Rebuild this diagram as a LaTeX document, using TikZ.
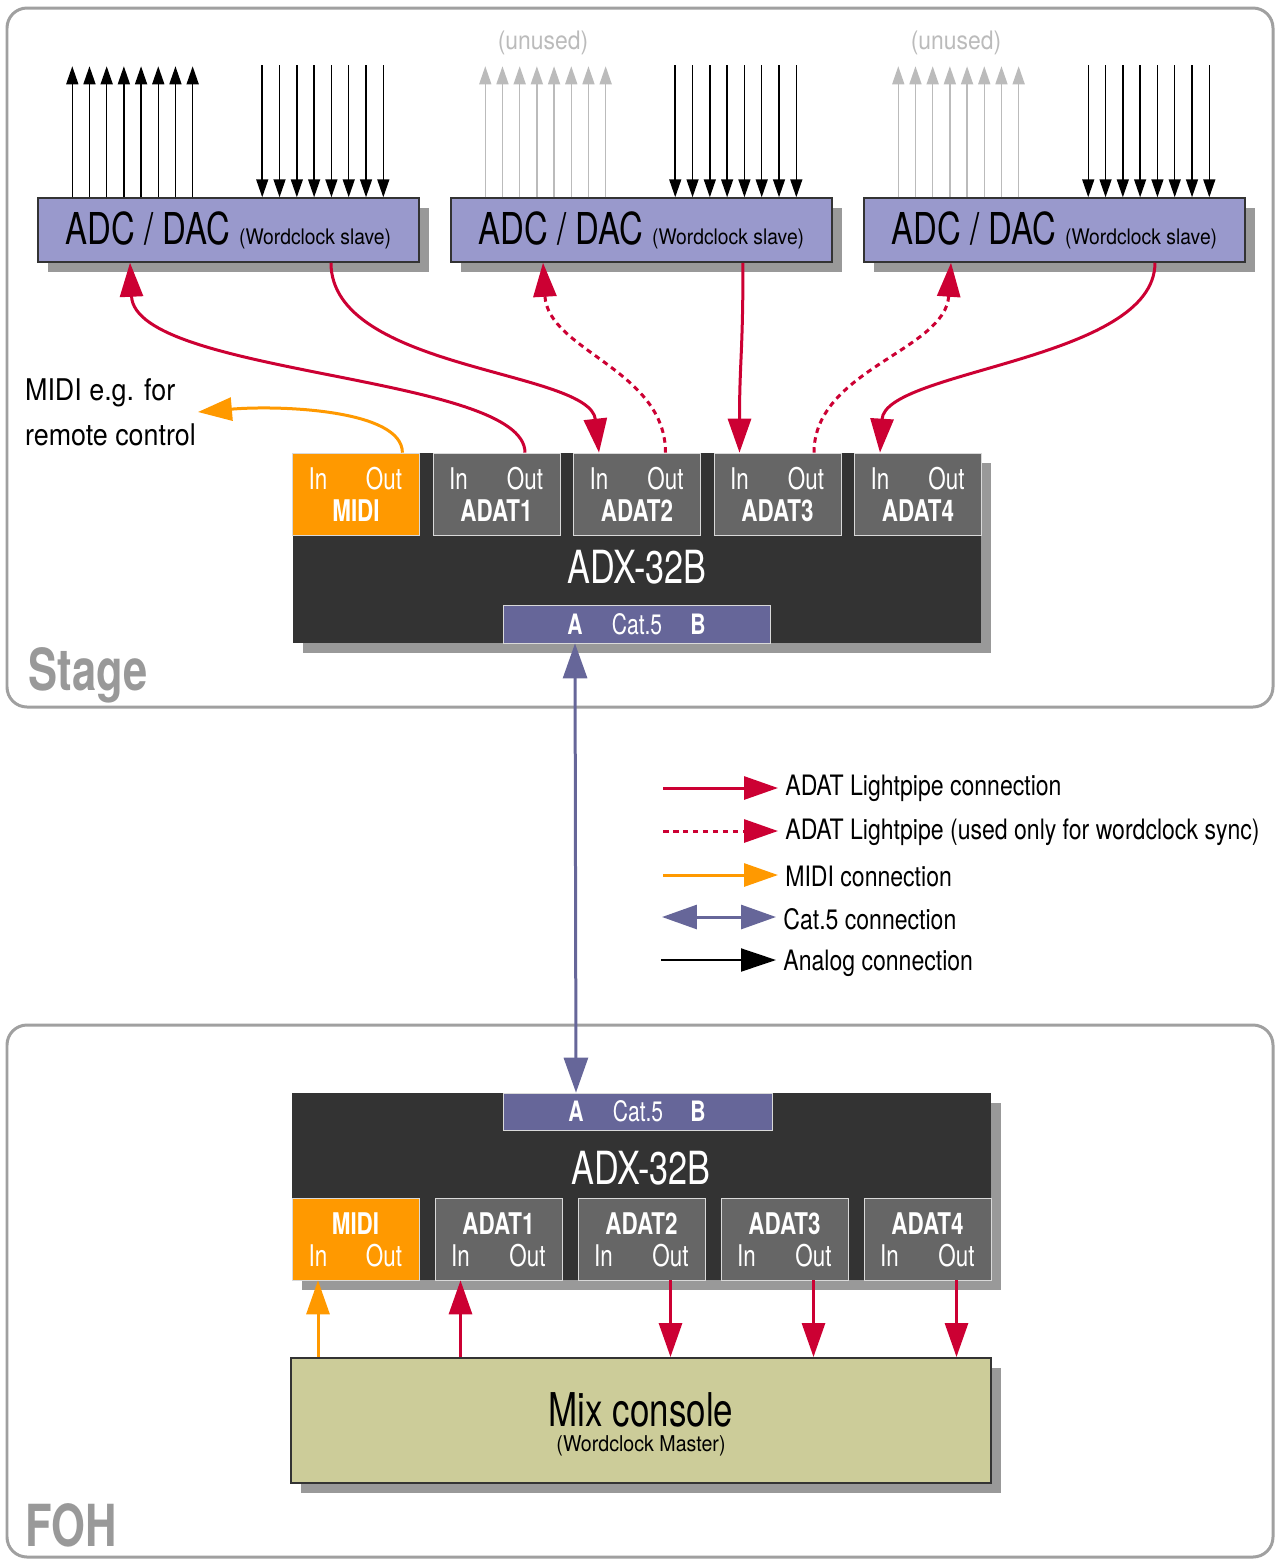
\documentclass[tikz,border=0pt]{standalone}
\usepackage{fontspec}
\setmainfont{TeX Gyre Heros}[FakeStretch=0.75]
\newfontfamily\legendfont{TeX Gyre Heros}[FakeStretch=0.82]
\newfontfamily\notefont{TeX Gyre Heros}[FakeStretch=0.9]
\usetikzlibrary{arrows.meta, shadows}
\definecolor{lpred}{HTML}{CC0033}
\definecolor{midiorange}{HTML}{FF9900}
\definecolor{catpurple}{HTML}{666699}
\definecolor{convblue}{HTML}{9999CC}
\definecolor{adxdark}{HTML}{333333}
\definecolor{portgray}{HTML}{666666}
\definecolor{mixgreen}{HTML}{CCCC99}
\definecolor{framegray}{HTML}{A0A0A0}
\definecolor{shadowgray}{HTML}{999999}
\definecolor{unusedgray}{HTML}{BBBBBB}
\tikzstyle{frame} = [draw=framegray, line width=0.06cm, rounded corners=0.4cm]
\tikzstyle{boxshadow} = [drop shadow={shadow xshift=0.2cm, shadow yshift=-0.2cm, fill=shadowgray, opacity=1}]
\tikzstyle{convbox} = [rectangle, draw=black!80, line width=0.03cm, fill=convblue, minimum width=7.62cm, minimum height=1.28cm, inner sep=0pt, boxshadow]
\tikzstyle{adxbox} = [rectangle, fill=adxdark, inner sep=0pt, boxshadow]
\tikzstyle{port} = [rectangle, draw=black!15, fill=portgray, minimum width=2.54cm, minimum height=1.64cm, inner sep=0pt]
\tikzstyle{midiport} = [port, fill=midiorange]
\tikzstyle{catbox} = [rectangle, draw=black!15, fill=catpurple, inner sep=0pt]
\tikzstyle{mixbox} = [rectangle, draw=black!80, line width=0.04cm, fill=mixgreen, minimum width=14cm, minimum height=2.5cm, inner sep=0pt, boxshadow]
\tikzstyle{portio} = [text=white, inner sep=0pt, font=\fontsize{17}{20}\selectfont]
\tikzstyle{portname} = [text=white, inner sep=0pt, font=\bfseries\fontsize{17}{20}\selectfont]
\tikzstyle{catlabel} = [text=white, inner sep=0pt, font=\fontsize{16}{19}\selectfont]
\tikzstyle{adxname} = [text=white, inner sep=0pt, font=\fontsize{26}{30}\selectfont]
\tikzstyle{place} = [text=shadowgray, anchor=base west, inner sep=0pt, font=\bfseries\fontsize{33}{38}\selectfont]
\tikzstyle{legendtext} = [anchor=west, inner sep=4pt, font=\legendfont\fontsize{16}{19}\selectfont]
\tikzstyle{lightpipe} = [draw=lpred, line width=0.06cm, -{Triangle[length=0.68cm, width=0.46cm]}]
\tikzstyle{syncpipe} = [lightpipe, dash pattern=on 0.11cm off 0.09cm]
\tikzstyle{midiline} = [draw=midiorange, line width=0.06cm, -{Triangle[length=0.68cm, width=0.46cm]}]
\tikzstyle{catline} = [draw=catpurple, line width=0.06cm, {Triangle[length=0.7cm, width=0.48cm]}-{Triangle[length=0.7cm, width=0.48cm]}]
\tikzstyle{analog} = [draw=black, line width=0.03cm, -{Triangle[length=0.36cm, width=0.24cm]}]
\tikzstyle{unusedline} = [analog, draw=unusedgray]

\begin{document}
\begin{tikzpicture}[x=0.02cm, y=-0.02cm]
\useasboundingbox (0,0) rectangle (1276,1560);

% stage and FOH areas
\draw [frame] (7,8) rectangle (1273,707);
\draw [frame] (7,1025) rectangle (1273,1557);
\node (stageName) [place] at (28,690) {Stage};
\node (fohName) [place] at (25,1546) {FOH};

% converters on stage
\foreach \n/\cx/\up in {1/228.5/analog, 2/641.5/unusedline, 3/1054.5/unusedline} {
  \node (conv\n) [convbox] at (\cx,230) {\fontsize{25}{30}\selectfont ADC / DAC {\notefont\fontsize{12.2}{14}\selectfont (Wordclock slave)}};
  \foreach \i in {0,...,7} {
    \draw [\up] ([xshift=0.7cm+\i*0.344cm]conv\n.north west) -- ++(0,-131);
    \draw [analog] ([xshift=4.5cm+\i*0.346cm]conv\n.north west) ++(0,-132) -- ++(0,132);
  }
}
\node (unused2) [text=unusedgray, font=\notefont\fontsize{14.5}{17}\selectfont] at (543,43) {(unused)};
\node (unused3) [text=unusedgray, font=\notefont\fontsize{14.5}{17}\selectfont] at (956,43) {(unused)};

% ADX-32B on stage
\node (sAdx) [adxbox, minimum width=13.76cm, minimum height=3.8cm] at (637,548) {};
\node (sAdxName) [adxname] at (637,567) {ADX-32B};
\node (sMidi) [midiport] at (356,494) {};
\node (sMidiIn) [portio] at (318,479) {In};
\node (sMidiOut) [portio] at (384,479) {Out};
\node (sMidiName) [portname] at (356,511) {MIDI};
\foreach \n in {1,...,4} {
  \pgfmathsetmacro\cx{356+\n*140.5}
  \node (sPort\n) [port] at (\cx,494) {};
  \node (sIn\n) [portio] at (\cx-38,479) {In};
  \node (sOut\n) [portio] at (\cx+28.5,479) {Out};
  \node (sName\n) [portname] at (\cx,511) {ADAT\n};
}
\node (sCat) [catbox, minimum width=5.34cm, minimum height=0.76cm] at (636.5,624) {};
\node (sCatA) [catlabel, font=\bfseries\fontsize{16}{19}\selectfont] at (575,624) {A};
\node (sCatName) [catlabel] at (637,624) {Cat.5};
\node (sCatB) [catlabel, font=\bfseries\fontsize{16}{19}\selectfont] at (698,624) {B};

\node (midiNote) [anchor=west, align=left, inner sep=1pt, font=\notefont\fontsize{17}{25.5}\selectfont] at (23,412) {MIDI e.g. for\\remote control};

% legend
\coordinate (legLp) at (663,788);
\coordinate (legSync) at (663,831);
\coordinate (legMidi) at (663,875);
\coordinate (legCat) at (662,917);
\coordinate (legAnalog) at (661,960);
\node (legLpText) [legendtext] at (778,788) {ADAT Lightpipe connection};
\node (legSyncText) [legendtext] at (778,832) {ADAT Lightpipe (used only for wordclock sync)};
\node (legMidiText) [legendtext] at (778,876) {MIDI connection};
\node (legCatText) [legendtext] at (776,919) {Cat.5 connection};
\node (legAnalogText) [legendtext] at (776,963) {Analog connection};
\draw [lightpipe] (legLp) -- (legLp -| legLpText.west);
\draw [syncpipe] (legSync) -- (legSync -| legSyncText.west);
\draw [midiline] (legMidi) -- (legMidi -| legMidiText.west);
\draw [catline] (legCat) -- (legCat -| legCatText.west);
\draw [analog, line width=0.04cm, -{Triangle[length=0.7cm, width=0.46cm]}] (legAnalog) -- (legAnalog -| legAnalogText.west);

% ADX-32B at FOH
\node (fAdx) [adxbox, minimum width=13.98cm, minimum height=3.74cm] at (641.5,1186.5) {};
\node (fAdxName) [adxname] at (641,1168) {ADX-32B};
\node (fCat) [catbox, minimum width=5.38cm, minimum height=0.74cm] at (637.5,1111.5) {};
\node (fCatA) [catlabel, font=\bfseries\fontsize{16}{19}\selectfont] at (576,1111) {A};
\node (fCatName) [catlabel] at (638,1111) {Cat.5};
\node (fCatB) [catlabel, font=\bfseries\fontsize{16}{19}\selectfont] at (698,1111) {B};
\node (fMidi) [midiport] at (355.5,1239) {};
\node (fMidiName) [portname] at (355.5,1224) {MIDI};
\node (fMidiIn) [portio] at (318,1256) {In};
\node (fMidiOut) [portio] at (384,1256) {Out};
\foreach \n in {1,...,4} {
  \pgfmathsetmacro\cx{355.5+\n*143}
  \node (fPort\n) [port] at (\cx,1239) {};
  \node (fName\n) [portname] at (\cx,1224) {ADAT\n};
  \node (fIn\n) [portio] at (\cx-38,1256) {In};
  \node (fOut\n) [portio] at (\cx+29,1256) {Out};
}

\node (mix) [mixbox] at (641,1420.5) {};
\node (mixName) [inner sep=0pt, font=\fontsize{26.5}{30}\selectfont] at (641,1410) {Mix console};
\node (mixSub) [inner sep=0pt, font=\notefont\fontsize{12.4}{14}\selectfont] at (641,1446) {(Wordclock Master)};

% connections on stage
\draw [lightpipe] (sPort1.north -| sOut1) .. controls +(0,-78) and +(5,113) .. ([xshift=-1.97cm]conv1.south);
\draw [lightpipe] ([xshift=2.05cm]conv1.south) .. controls +(0,108) and +(-9,-83) .. (sPort2.north -| sIn2);
\draw [syncpipe] (sPort2.north -| sOut2) .. controls +(0,-83) and +(5,88) .. ([xshift=-1.97cm]conv2.south);
\draw [lightpipe] ([xshift=2.03cm]conv2.south) .. controls +(0,90) and +(0,-90) .. (sPort3.north -| sIn3);
\draw [syncpipe] ([xshift=0.16cm]sPort3.north -| sOut3) .. controls +(0,-83) and +(-6,88) .. ([xshift=-2.07cm]conv3.south);
\draw [lightpipe] ([xshift=2.01cm]conv3.south) .. controls +(0,98) and +(5,-83) .. (sPort4.north -| sIn4);
\draw [midiline] (sMidi.north -| sMidiOut.east) .. controls +(0,-43) and +(82,-7) .. (midiNote.east);

% snake to FOH
\draw [catline] (sCat.south -| sCatA) -- (fCat.north -| fCatA);

% connections at FOH
\draw [midiline] (mix.north -| fMidiIn) -- (fMidi.south -| fMidiIn);
\draw [lightpipe] (mix.north -| fIn1) -- (fPort1.south -| fIn1);
\foreach \n in {2,3,4}
  \draw [lightpipe] (fPort\n.south -| fOut\n) -- (mix.north -| fOut\n);

\end{tikzpicture}
\end{document}
